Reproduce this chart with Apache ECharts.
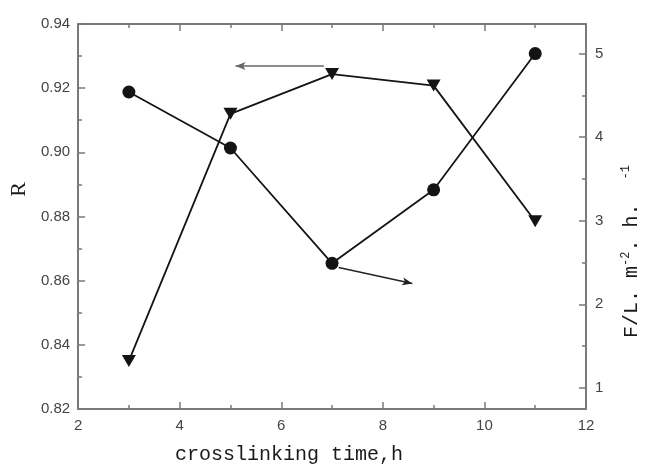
<!DOCTYPE html>
<html>
<head>
<meta charset="utf-8">
<script src="https://cdn.jsdelivr.net/npm/echarts@6/dist/echarts.min.js"></script>
<style>
  html, body { margin: 0; padding: 0; background: #fff; }
  #chart { width: 650px; height: 470px; }
</style>
</head>
<body>
<div id="chart"></div>
<script>
// Crosslinking time (h)
const crosslinkTime = [3, 5, 7, 9, 11];
// Rejection R (left axis, down triangles)
const rejectionR = [0.835, 0.912, 0.9244, 0.9208, 0.8785];
// Flux F, L·m^-2·h^-1 (right axis, circles)
const fluxF = [4.54, 3.87, 2.49, 3.37, 5.0];

// Tick values for the axes
const xTicks = [2, 4, 6, 8, 10, 12];
const rTicks = [0.82, 0.84, 0.86, 0.88, 0.90, 0.92, 0.94];
const fTicks = [1, 2, 3, 4, 5];
const fMinorTicks = [1.5, 2.5, 3.5, 4.5];
const fRange = [0.747, 5.354];

// Arrows telling which axis each curve belongs to: [start, end] in data units
const arrowToR = [[6.84, 0.9269], [5.1, 0.9269]];
const arrowToF = [[7.13, 2.44], [8.58, 2.25]];

const axisGray = '#7a7a7a';
const labelGray = '#444';
const ink = '#141414';

const chart = echarts.init(document.getElementById('chart'), null, { renderer: 'canvas' });

const tickLabelStyle = { color: labelGray, fontSize: 15, fontFamily: 'Liberation Sans, Arial, sans-serif' };
const majorTick = { show: true, inside: true, length: 7, lineStyle: { color: axisGray, width: 1.5 } };
const minorTick = { show: true, splitNumber: 2, length: 4, lineStyle: { color: axisGray, width: 1.5 } };
const frameLine = { show: true, lineStyle: { color: axisGray, width: 2 } };

function pairs(xs, ys) { return xs.map((x, i) => [x, ys[i]]); }

chart.setOption({
  animation: false,
  backgroundColor: '#fff',
  grid: { left: 71, right: 51, top: 24, bottom: 54, containLabel: false },
  xAxis: [
    {
      type: 'value', position: 'bottom',
      min: xTicks[0], max: xTicks[xTicks.length - 1], interval: 2,
      name: 'crosslinking time,h', nameLocation: 'middle', nameGap: 36,
      nameTextStyle: { fontFamily: 'Liberation Mono, monospace', fontSize: 20, color: '#1a1a1a', padding: [0, 86, 0, 0] },
      axisLine: frameLine,
      axisTick: majorTick,
      minorTick: minorTick,
      axisLabel: Object.assign({ margin: 9 }, tickLabelStyle),
      splitLine: { show: false }
    },
    {
      type: 'value', position: 'top',
      min: xTicks[0], max: xTicks[xTicks.length - 1], interval: 2,
      axisLine: frameLine,
      axisTick: majorTick,
      minorTick: minorTick,
      axisLabel: { show: false },
      splitLine: { show: false }
    }
  ],
  yAxis: [
    {
      type: 'value', position: 'left',
      min: rTicks[0], max: rTicks[rTicks.length - 1], interval: 0.02,
      name: 'R', nameLocation: 'middle', nameGap: 45,
      nameTextStyle: { fontFamily: 'Liberation Serif, serif', fontSize: 22, color: '#1a1a1a', padding: [0, 0, 0, 54] },
      axisLine: frameLine,
      axisTick: majorTick,
      minorTick: minorTick,
      axisLabel: Object.assign({ margin: 8, formatter: v => v.toFixed(2) }, tickLabelStyle),
      splitLine: { show: false }
    },
    {
      type: 'value', position: 'right',
      min: fRange[0], max: fRange[1],
      name: 'F/L. m{sup|-2}. h.  {sup|-1}', nameLocation: 'middle', nameGap: 34,
      nameTextStyle: {
        fontFamily: 'Liberation Mono, monospace', fontSize: 20, color: '#1a1a1a', padding: [0, 70, 0, 0],
        rich: { sup: { fontFamily: 'Liberation Mono, monospace', fontSize: 12, color: '#1a1a1a', verticalAlign: 'top', padding: [0, 0, 12, 0] } }
      },
      axisLine: frameLine,
      axisTick: Object.assign({ customValues: fTicks }, majorTick),
      axisLabel: Object.assign({ margin: 9, customValues: fTicks }, tickLabelStyle),
      splitLine: { show: false }
    },
    {
      type: 'value', position: 'right',
      min: fRange[0], max: fRange[1],
      axisLine: { show: false },
      axisTick: { show: true, inside: true, length: 4, customValues: fMinorTicks, lineStyle: { color: axisGray, width: 1.5 } },
      axisLabel: { show: false },
      splitLine: { show: false }
    }
  ],
  series: [
    {
      type: 'line', xAxisIndex: 0, yAxisIndex: 0,
      data: pairs(crosslinkTime, rejectionR),
      symbol: 'triangle', symbolRotate: 180, symbolSize: [14, 12], showAllSymbol: true,
      lineStyle: { color: ink, width: 1.8 },
      itemStyle: { color: ink, borderWidth: 0 },
      markLine: {
        silent: true, animation: false,
        symbol: ['none', 'arrow'], symbolSize: [6, 10],
        label: { show: false },
        lineStyle: { color: '#666', width: 1.5, type: 'solid' },
        data: [[{ coord: arrowToR[0] }, { coord: arrowToR[1] }]]
      }
    },
    {
      type: 'line', xAxisIndex: 0, yAxisIndex: 1,
      data: pairs(crosslinkTime, fluxF),
      symbol: 'circle', symbolSize: 13, showAllSymbol: true,
      lineStyle: { color: ink, width: 1.8 },
      itemStyle: { color: ink, borderWidth: 0 },
      markLine: {
        silent: true, animation: false,
        symbol: ['none', 'arrow'], symbolSize: [6, 10],
        label: { show: false },
        lineStyle: { color: '#222', width: 1.5, type: 'solid' },
        data: [[{ coord: arrowToF[0] }, { coord: arrowToF[1] }]]
      }
    }
  ]
});
</script>
</body>
</html>
